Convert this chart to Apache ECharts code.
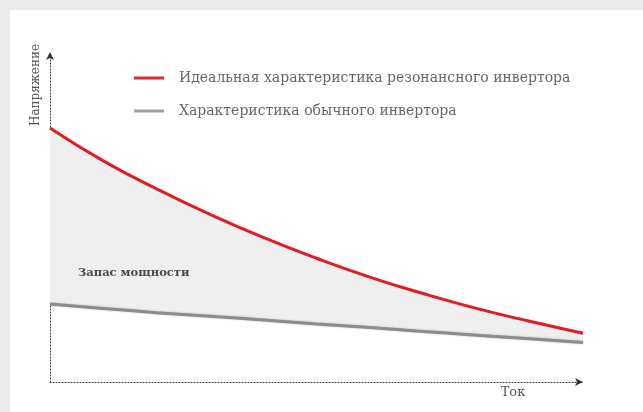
<!DOCTYPE html>
<html>
<head>
<meta charset="utf-8">
<script src="https://cdn.jsdelivr.net/npm/echarts@6/dist/echarts.min.js"></script>
<style>
html,body{margin:0;padding:0;background:#ebebeb;}
#chart{width:643px;height:412px;}
</style>
</head>
<body>
<div id="chart"></div>
<script>
// Data (arbitrary units)
const currentSteps = ['0', '1', '2', '3', '4', '5', '6', '7', '8', '9', '10'];
const resonantVoltage = [77.0, 67.0, 58.5, 50.8, 43.8, 37.5, 31.8, 26.8, 22.3, 18.4, 14.8];
const ordinaryVoltage = [23.6, 22.3, 21.0, 19.9, 18.8, 17.6, 16.5, 15.3, 14.2, 13.1, 12.0];
const seriesNames = ['Идеальная характеристика резонансного инвертора', 'Характеристика обычного инвертора'];
const axisNames = { x: 'Ток', y: 'Напряжение' };
const areaLabel = 'Запас мощности';

const marginValues = resonantVoltage.map((v, i) => v - ordinaryVoltage[i]);

const FONT = '"DejaVu Serif", "Liberation Serif", serif';
const chart = echarts.init(document.getElementById('chart'));
chart.setOption({
  backgroundColor: '#ebebeb',
  animation: false,
  grid: { left: 50, right: 60, top: 52, bottom: 30 },
  xAxis: {
    type: 'category', data: currentSteps, boundaryGap: false,
    axisLine: { show: true, symbol: ['none', 'arrow'], symbolSize: [6, 8],
      lineStyle: { color: '#333', type: [1, 2], width: 1 } },
    axisTick: { show: false }, axisLabel: { show: false }, splitLine: { show: false }
  },
  yAxis: {
    type: 'value', min: 0, max: 100,
    axisLine: { show: true, symbol: ['none', 'arrow'], symbolSize: [6, 8],
      lineStyle: { color: '#333', type: [1, 2], width: 1 } },
    axisTick: { show: false }, axisLabel: { show: false }, splitLine: { show: false }
  },
  legend: {
    data: seriesNames,
    orient: 'vertical',
    left: 129, top: 66,
    itemWidth: 30, itemHeight: 3, itemGap: 19,
    icon: 'rect',
    textStyle: { fontFamily: FONT, fontSize: 14, color: '#666', padding: [0, 0, 0, 10] }
  },
  graphic: [
    { type: 'rect', z: -100, shape: { x: 10, y: 10, width: 633, height: 402 }, style: { fill: '#ffffff' } },
    { type: 'text', x: 36, y: 85, rotation: Math.PI / 2, style: { text: axisNames.y, font: '12px ' + FONT, fill: '#555', align: 'center', verticalAlign: 'middle' } },
    { type: 'text', x: 513, y: 393, style: { text: axisNames.x, font: '13px ' + FONT, fill: '#555', align: 'center', verticalAlign: 'middle' } },
    { type: 'text', x: 78, y: 273, z: 10, style: { text: areaLabel, font: 'bold 11.5px ' + FONT, fill: '#4a4a4a', align: 'left', verticalAlign: 'middle' } }
  ],
  series: [
    { name: 'base', type: 'line', stack: 'fill', data: ordinaryVoltage, smooth: true, symbol: 'none', lineStyle: { opacity: 0 }, silent: true },
    { name: 'margin', type: 'line', stack: 'fill', data: marginValues, smooth: true, symbol: 'none', lineStyle: { opacity: 0 }, areaStyle: { color: '#efefef', opacity: 1 }, silent: true },
    { name: seriesNames[1], type: 'line', data: ordinaryVoltage, smooth: true, symbol: 'none', color: '#a0a0a0', lineStyle: { color: '#8c8c8c', width: 3, shadowColor: 'rgba(0,0,0,0.25)', shadowBlur: 2 }, z: 3 },
    { name: seriesNames[0], type: 'line', data: resonantVoltage, smooth: true, symbol: 'none', color: '#e3262a', lineStyle: { color: '#e31b22', width: 3 }, z: 4 }
  ]
});
</script>
</body>
</html>
